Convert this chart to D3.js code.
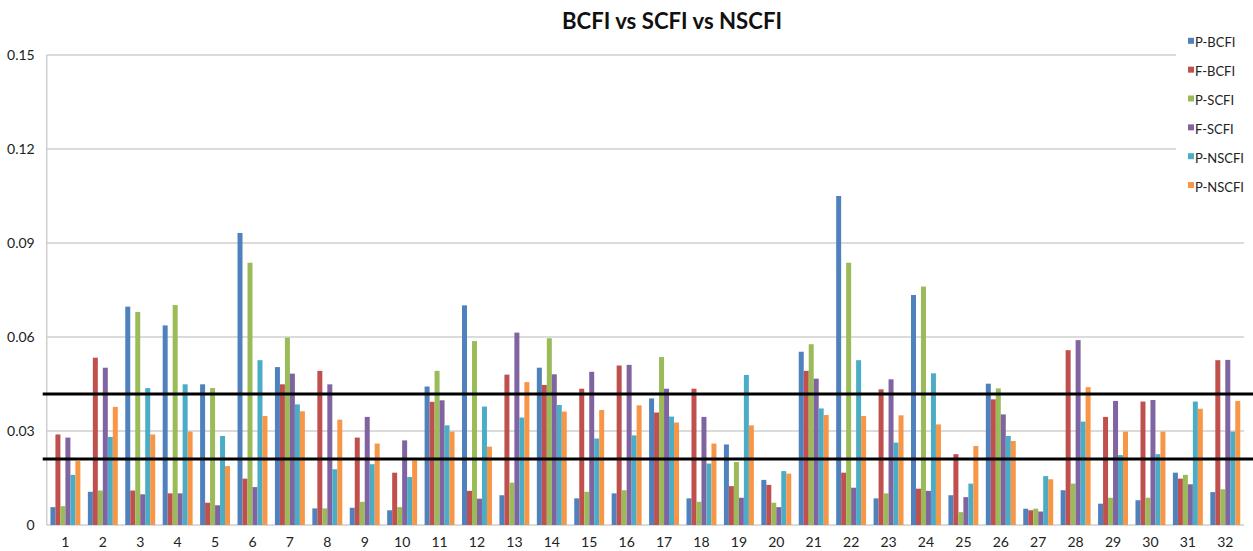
<!DOCTYPE html>
<html>
<head>
<meta charset="utf-8">
<script src="https://cdn.jsdelivr.net/npm/d3@7"></script>
<style>
  body { margin: 0; background: #fff; }
  svg { display: block; font-family: Lato, "Open Sans", sans-serif; }
</style>
</head>
<body>
<div id="chart"></div>
<script>
// categories (weeks 1..32)
var categories = d3.range(1, 33).map(String);

var seriesNames = ["P-BCFI", "F-BCFI", "P-SCFI", "F-SCFI", "P-NSCFI", "P-NSCFI"];
var seriesColors = ["#4f81bd", "#c0504d", "#9bbb59", "#8064a2", "#4bacc6", "#f79646"];

var pBCFI = [0.0057, 0.0106, 0.0697, 0.0637, 0.0449, 0.0932, 0.0504, 0.0053, 0.0055, 0.0047,
             0.0442, 0.0701, 0.0095, 0.0502, 0.0085, 0.0101, 0.0404, 0.0085, 0.0257, 0.0144,
             0.0553, 0.1050, 0.0085, 0.0734, 0.0095, 0.0451, 0.0052, 0.0111, 0.0068, 0.0079,
             0.0167, 0.0105];
var fBCFI = [0.0289, 0.0534, 0.0110, 0.0101, 0.0071, 0.0148, 0.0449, 0.0492, 0.0279, 0.0167,
             0.0393, 0.0109, 0.0480, 0.0447, 0.0435, 0.0509, 0.0359, 0.0435, 0.0124, 0.0128,
             0.0492, 0.0167, 0.0433, 0.0116, 0.0226, 0.0401, 0.0047, 0.0558, 0.0345, 0.0394,
             0.0148, 0.0526];
var pSCFI = [0.0060, 0.0110, 0.0680, 0.0702, 0.0437, 0.0837, 0.0598, 0.0053, 0.0074, 0.0057,
             0.0492, 0.0587, 0.0135, 0.0596, 0.0106, 0.0111, 0.0536, 0.0074, 0.0201, 0.0071,
             0.0577, 0.0837, 0.0101, 0.0761, 0.0041, 0.0436, 0.0052, 0.0132, 0.0087, 0.0087,
             0.0160, 0.0114];
var fSCFI = [0.0279, 0.0502, 0.0098, 0.0101, 0.0063, 0.0121, 0.0483, 0.0449, 0.0345, 0.0270,
             0.0398, 0.0084, 0.0614, 0.0481, 0.0489, 0.0511, 0.0435, 0.0345, 0.0087, 0.0057,
             0.0467, 0.0119, 0.0465, 0.0109, 0.0089, 0.0353, 0.0043, 0.0590, 0.0396, 0.0399,
             0.0130, 0.0527];
var pNSCFI = [0.0160, 0.0281, 0.0437, 0.0449, 0.0284, 0.0526, 0.0385, 0.0178, 0.0194, 0.0153,
              0.0318, 0.0378, 0.0343, 0.0383, 0.0276, 0.0286, 0.0346, 0.0196, 0.0479, 0.0172,
              0.0372, 0.0526, 0.0263, 0.0484, 0.0132, 0.0284, 0.0156, 0.0330, 0.0223, 0.0226,
              0.0394, 0.0298];
var pNSCFI2 = [0.0204, 0.0377, 0.0289, 0.0298, 0.0188, 0.0348, 0.0363, 0.0336, 0.0260, 0.0206,
               0.0298, 0.0250, 0.0456, 0.0362, 0.0367, 0.0382, 0.0327, 0.0260, 0.0318, 0.0164,
               0.0351, 0.0348, 0.0350, 0.0321, 0.0252, 0.0268, 0.0146, 0.0440, 0.0298, 0.0298,
               0.0371, 0.0396];

var yTicks = [0, 0.03, 0.06, 0.09, 0.12, 0.15];
var refLines = [0.0418, 0.0211];

var allSeries = [pBCFI, fBCFI, pSCFI, fSCFI, pNSCFI, pNSCFI2];

var width = 1253, height = 551;
var plotLeft = 46.7, plotRight = 1244, plotTop = 55, plotBottom = 525;

var svg = d3.select("#chart").append("svg")
    .attr("width", width)
    .attr("height", height);

var x = d3.scaleBand()
    .domain(categories)
    .range([plotLeft, plotRight])
    .paddingInner(0.2)
    .paddingOuter(0.1);

var xSub = d3.scaleBand()
    .domain(d3.range(seriesNames.length))
    .range([0, x.bandwidth()]);

var y = d3.scaleLinear()
    .domain([0, 0.15])
    .range([plotBottom, plotTop]);

// gridlines
svg.append("g")
    .selectAll("line")
    .data(yTicks)
    .enter()
    .append("line")
    .attr("x1", plotLeft)
    .attr("x2", plotRight)
    .attr("y1", d => y(d))
    .attr("y2", d => y(d))
    .style("stroke", "#cfcfcf")
    .style("stroke-width", 1.5);

// left axis line
svg.append("line")
    .attr("x1", plotLeft).attr("x2", plotLeft)
    .attr("y1", y(0.15)).attr("y2", y(0))
    .style("stroke", "#cfcfcf")
    .style("stroke-width", 1.5);

// y tick labels
var yAxis = d3.axisLeft(y).tickValues(yTicks).tickSize(0).tickPadding(12)
    .tickFormat(d => d === 0 ? "0" : d3.format(".2f")(d));
svg.append("g")
    .attr("transform", "translate(" + plotLeft + ",0)")
    .call(yAxis)
    .call(g => g.select(".domain").remove())
    .selectAll("text")
    .style("font-family", "Lato, 'Open Sans', sans-serif")
    .style("font-size", "14px")
    .style("fill", "#222");

// bars
var groups = svg.append("g")
    .selectAll("g")
    .data(categories)
    .enter()
    .append("g")
    .attr("transform", d => "translate(" + x(d) + ",0)");

groups.selectAll("rect")
    .data((d, i) => allSeries.map((s, k) => ({k: k, v: s[i]})))
    .enter()
    .append("rect")
    .attr("x", d => xSub(d.k))
    .attr("width", xSub.bandwidth())
    .attr("y", d => y(d.v))
    .attr("height", d => y(0) - y(d.v))
    .style("fill", d => seriesColors[d.k]);

// x labels
var xAxis = d3.axisBottom(x).tickSize(0).tickPadding(12);
svg.append("g")
    .attr("transform", "translate(0," + plotBottom + ")")
    .call(xAxis)
    .call(g => g.select(".domain").remove())
    .selectAll("text")
    .style("font-family", "Lato, 'Open Sans', sans-serif")
    .style("font-size", "14px")
    .style("fill", "#222");

// black reference lines
svg.append("g")
    .selectAll("line")
    .data(refLines)
    .enter()
    .append("line")
    .attr("x1", 42.7)
    .attr("x2", width)
    .attr("y1", d => y(d))
    .attr("y2", d => y(d))
    .style("stroke", "#000")
    .style("stroke-width", 3);

// legend with white box over the top gridlines
var legend = svg.append("g");
legend.append("rect")
    .attr("x", 1176).attr("y", 20)
    .attr("width", 77).attr("height", 190)
    .style("fill", "#fff");

var items = legend.selectAll("g.item")
    .data(seriesNames)
    .enter()
    .append("g")
    .attr("class", "item")
    .attr("transform", (d, i) => "translate(1188," + (42.3 + i * 28.85) + ")");

items.append("rect")
    .attr("x", 0).attr("y", -4.5)
    .attr("width", 6).attr("height", 6)
    .style("fill", (d, i) => seriesColors[i]);

items.append("text")
    .attr("x", 7)
    .attr("y", 5)
    .style("font-size", "13px")
    .style("fill", "#222")
    .text(d => d);

// title
svg.append("text")
    .attr("x", 672)
    .attr("y", 29)
    .attr("text-anchor", "middle")
    .attr("textLength", 220)
    .attr("lengthAdjust", "spacingAndGlyphs")
    .style("font-size", "23px")
    .style("font-weight", "bold")
    .style("fill", "#111")
    .text("BCFI vs SCFI vs NSCFI");
</script>
</body>
</html>
